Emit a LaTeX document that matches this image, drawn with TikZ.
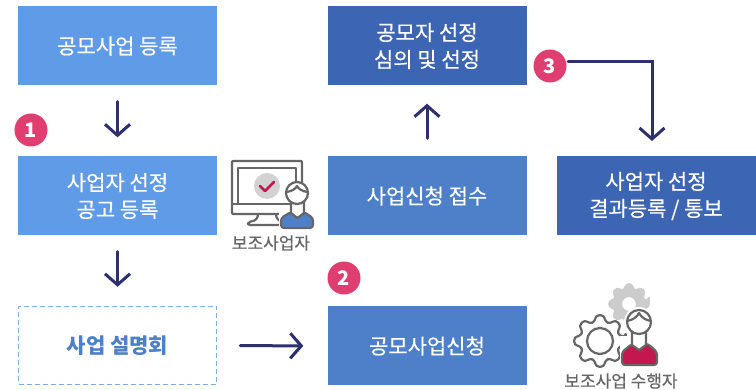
\documentclass[tikz,border=0pt]{standalone}
\usepackage{fontspec}
\setmainfont{Noto Sans CJK KR}
\newfontfamily\medf[FakeBold=0.35]{Noto Sans CJK KR}
\usetikzlibrary{arrows.meta,calc}
\definecolor{lblue}{HTML}{5F9BE6}
\definecolor{mblue}{HTML}{4D80C9}
\definecolor{dblue}{HTML}{3C66B4}
\definecolor{navy}{HTML}{2E2F6E}
\definecolor{pinkc}{HTML}{E03E70}
\definecolor{grayl}{HTML}{666666}
\definecolor{crim}{HTML}{C2184F}
\tikzset{
 box/.style={minimum width=199pt,minimum height=79pt,inner sep=0,align=center,text=white,font=\fontsize{21}{27}\selectfont\medf},
 dashbox/.style={box,draw=lblue!80,line width=1.4pt,dash pattern=on 5pt off 3pt,text=mblue,font=\fontsize{21}{27}\selectfont\bfseries,minimum width=198pt,minimum height=78pt},
 flow/.style={draw=navy,line width=3pt,-{Straight Barb[length=11pt,width=25pt,line width=3pt]},line cap=round},
 badge/.style={circle,fill=pinkc,text=white,minimum size=33pt,inner sep=0,font=\fontsize{20}{20}\selectfont\bfseries},
 captxt/.style={text=grayl,font=\fontsize{17}{17}\selectfont\medf,inner sep=0},
 ico/.style={draw=grayl,line width=2.2pt,line join=round}
}
\begin{document}
\begin{tikzpicture}[x=1pt,y=-1pt]
\useasboundingbox (0,0) rectangle (756,390);
\fill[white] (0,0) rectangle (756,390);
\node[box,fill=lblue] (a) at (117.5,46) {공모사업 등록};
\node[box,fill=lblue] (b) at (117.5,196) {사업자 선정\\공고 등록};
\node[dashbox] (c) at (117.5,345.5) {사업 설명회};
\node[box,fill=dblue] (d) at (427,46) {공모자 선정\\심의 및 선정};
\node[box,fill=mblue] (e) at (427,196) {사업신청 접수};
\node[box,fill=mblue] (f) at (427,346) {공모사업신청};
\node[box,fill=dblue] (g) at (656,196) {사업자 선정\\결과등록 / 통보};
\node[badge] (n1) at (31,130) {1};
\node[badge] (n2) at (344,278) {2};
\node[badge] (n3) at (550,66) {3};
\draw[flow,shorten <=16pt,shorten >=19pt] (a.south) -- (b.north);
\draw[flow,shorten <=16pt,shorten >=19pt] (b.south) -- (c.north);
\draw[flow,shorten <=23pt,shorten >=24pt] (c.east) -- (f.west);
\draw[flow,shorten <=18pt,shorten >=18pt] (e.north) -- (d.south);
\coordinate (el) at (652,62);
\coordinate (gt) at (652,156);
\coordinate (st) at (568,62);
\draw[flow,shorten >=15pt] (st) -- (el) -- (gt);
% monitor icon
\draw[ico,rounded corners=1pt,fill=white] (232,161) rectangle (302,214);
\draw[ico] (232,204) -- (302,204);
\draw[ico] (238,168) rectangle (296,204);
\draw[ico,rounded corners=2pt] (258,214) .. controls (258,218) and (256,221) .. (248,222) -- (248,225) -- (285,225) -- (285,222) .. controls (278,221) and (276,218) .. (276,214);
\fill[gray!35] (267,186) circle (13);
\draw[crim,line width=2.6pt,line cap=round,line join=round] (260,186) -- (265,191) -- (274,182);
\fill[white] (279,209) rectangle (315,230);
\draw[ico,fill=mblue,rounded corners=3pt] (281,228) -- (281,218) -- (291,212) -- (304,212) -- (313,218) -- (313,228) -- cycle;
\draw[ico,fill=white] (291,202) -- (291,213) -- (297.5,218) -- (304,213) -- (304,202);
\draw[ico,fill=white] (297,193) circle (11);
\draw[ico] (287,192) .. controls (292,191) and (295.5,189) .. (297,186) .. controls (298.5,189) and (302,191) .. (307,192);
\node[captxt] (l1) at (271,243) {보조사업자};
% gear icon
\foreach \cx/\cy/\ro/\ri/\rh/\gst/\gfl/\gr in {629/304/20/15/8/gray!40/gray!40/3,600/341/26/20/13/grayl/white/3}{
 \draw[draw=\gst,line width=2.2pt,line join=round,fill=\gfl,rounded corners=\gr pt]
  ({\cx+\ro*cos(-9)},{\cy+\ro*sin(-9)})
  \foreach \ang in {0,45,...,315} {
   -- ({\cx+\ro*cos(\ang-9)},{\cy+\ro*sin(\ang-9)})
   -- ({\cx+\ro*cos(\ang+9)},{\cy+\ro*sin(\ang+9)})
   -- ({\cx+\ri*cos(\ang+15)},{\cy+\ri*sin(\ang+15)})
   -- ({\cx+\ri*cos(\ang+30)},{\cy+\ri*sin(\ang+30)})
  } -- cycle;
 \fill[white] (\cx,\cy) circle (\rh);
 \draw[draw=\gst,line width=2.2pt] (\cx,\cy) circle (\rh);
}
\fill[white] (620,336) rectangle (660,367);
\fill[white] (639,322) circle (15);
\draw[ico,fill=crim,rounded corners=3pt] (622,365) -- (622,352) -- (632,344) -- (648,344) -- (657,352) -- (657,365) -- cycle;
\draw[ico,fill=white] (632,332) -- (632,345) -- (639,350) -- (646,345) -- (646,332);
\draw[ico,fill=white] (639,322) circle (12);
\draw[ico] (627,321) .. controls (633,320) and (637,317) .. (639,313) .. controls (641,317) and (645,320) .. (651,321);
\node[captxt] (l2) at (621,381) {보조사업 수행자};
\end{tikzpicture}
\end{document}
